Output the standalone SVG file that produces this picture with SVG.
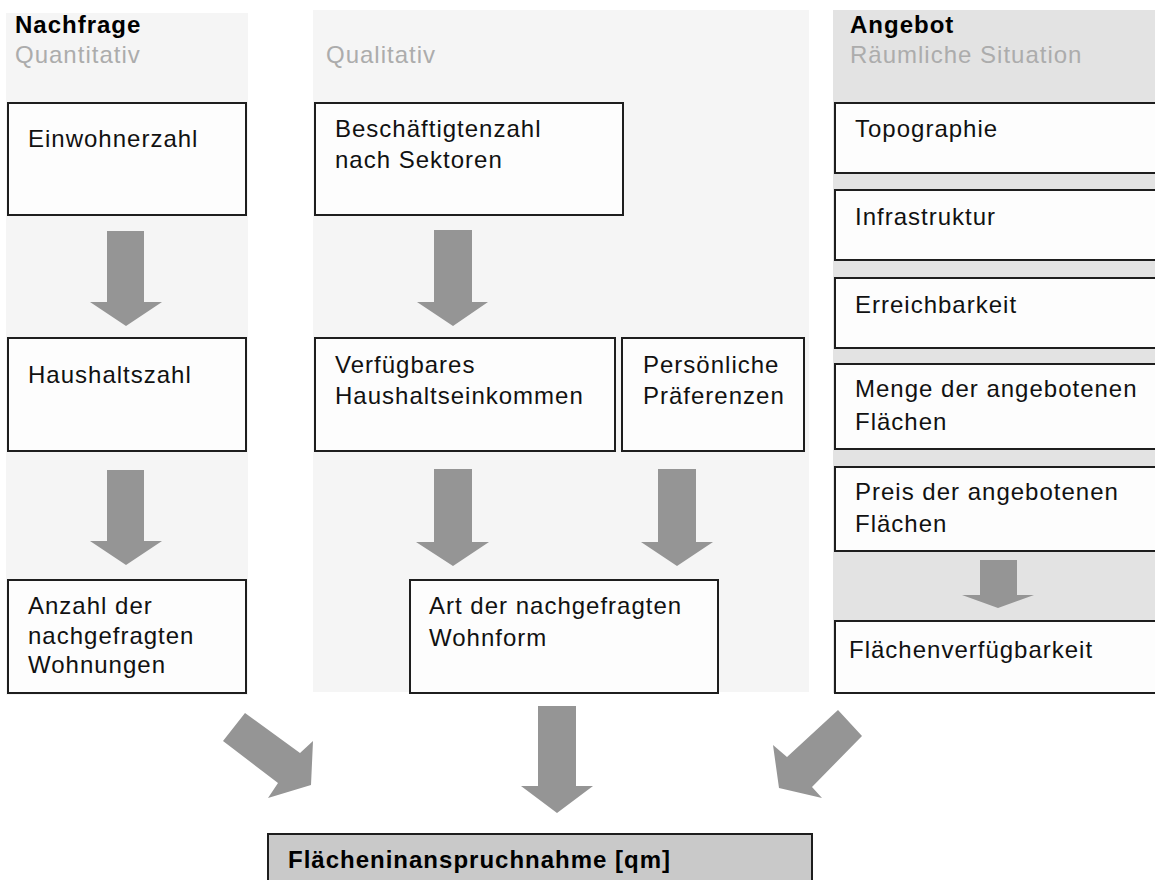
<svg xmlns="http://www.w3.org/2000/svg" width="1155" height="880" viewBox="0 0 1155 880">
<defs>
<style>
.panel-l{fill:#f5f5f5}
.panel-r{fill:#e3e3e3}
.box{fill:#fdfdfd;stroke:#1e1e1e;stroke-width:2}
.final{fill:#c9c9c9;stroke:#1e1e1e;stroke-width:2}
.t{font-family:"Liberation Sans",Arial,sans-serif;font-size:24px;letter-spacing:1px;fill:#111}
.h{font-family:"Liberation Sans",Arial,sans-serif;font-size:24px;font-weight:bold;letter-spacing:1px;fill:#000}
.s{font-family:"Liberation Sans",Arial,sans-serif;font-size:24px;letter-spacing:1px;fill:#acacac}
.arr{fill:#959595}
</style>
</defs>
<rect width="1155" height="880" fill="#ffffff"/>
<g id="panels">
<rect class="panel-l" x="6" y="13" width="242" height="682"/>
<rect class="panel-l" x="313" y="10" width="496" height="682"/>
<rect class="panel-r" x="833" y="10" width="322" height="683"/>
</g>
<g id="headers">
<text class="h" x="15" y="33">Nachfrage</text>
<text class="s" x="15" y="63">Quantitativ</text>
<text class="s" x="326" y="63">Qualitativ</text>
<text class="h" x="850" y="33">Angebot</text>
<text class="s" x="850" y="63">Räumliche Situation</text>
</g>
<g id="connectors">
<path class="arr" d="M107 231H144V302H162L126 326L90 302H107Z"/>
<path class="arr" d="M107 470H144V541H162L126 565L90 541H107Z"/>
<path class="arr" d="M434 230H472V302H488L453 326L417 302H434Z"/>
<path class="arr" d="M434 469H472V542H489L453 566L416 542H434Z"/>
<path class="arr" d="M658 469H696V542H713L677 566L641 542H658Z"/>
<path class="arr" d="M980 560H1017V595H1034L998 608L962 595H980Z"/>
<path class="arr" d="M538 706H576V786H593L557 813L521 786H538Z"/>
<path class="arr" d="M245 713L300 753L313 741L311 785L268 798L278 783L223 741Z"/>
<path class="arr" d="M838 710L862 736L812 787L822 798L779 788L773 745L787 757Z"/>
</g>
<g id="n-einwohnerzahl">
<rect class="box" x="8" y="103" width="238" height="112"/>
<text class="t" x="28" y="147">Einwohnerzahl</text>
</g>
<g id="n-haushaltszahl">
<rect class="box" x="8" y="338" width="238" height="113"/>
<text class="t" x="28" y="383">Haushaltszahl</text>
</g>
<g id="n-anzahl">
<rect class="box" x="8" y="580" width="238" height="113"/>
<text class="t" x="28" y="614">Anzahl der</text>
<text class="t" x="28" y="644">nachgefragten</text>
<text class="t" x="28" y="673">Wohnungen</text>
</g>
<g id="n-beschaeftigte">
<rect class="box" x="315" y="103" width="308" height="112"/>
<text class="t" x="335" y="137">Beschäftigtenzahl</text>
<text class="t" x="335" y="168">nach Sektoren</text>
</g>
<g id="n-einkommen">
<rect class="box" x="315" y="338" width="300" height="113"/>
<text class="t" x="335" y="373">Verfügbares</text>
<text class="t" x="335" y="404">Haushaltseinkommen</text>
</g>
<g id="n-praeferenzen">
<rect class="box" x="622" y="338" width="182" height="113"/>
<text class="t" x="643" y="373">Persönliche</text>
<text class="t" x="643" y="404">Präferenzen</text>
</g>
<g id="n-wohnform">
<rect class="box" x="410" y="580" width="308" height="113"/>
<text class="t" x="429" y="614">Art der nachgefragten</text>
<text class="t" x="429" y="646">Wohnform</text>
</g>
<g id="n-topographie">
<rect class="box" x="835" y="103" width="330" height="70"/>
<text class="t" x="855" y="137">Topographie</text>
</g>
<g id="n-infrastruktur">
<rect class="box" x="835" y="190" width="330" height="70"/>
<text class="t" x="855" y="225">Infrastruktur</text>
</g>
<g id="n-erreichbarkeit">
<rect class="box" x="835" y="278" width="330" height="70"/>
<text class="t" x="855" y="313">Erreichbarkeit</text>
</g>
<g id="n-menge">
<rect class="box" x="835" y="364" width="330" height="85"/>
<text class="t" x="855" y="397">Menge der angebotenen</text>
<text class="t" x="855" y="430">Flächen</text>
</g>
<g id="n-preis">
<rect class="box" x="835" y="467" width="330" height="84"/>
<text class="t" x="855" y="500">Preis der angebotenen</text>
<text class="t" x="855" y="532">Flächen</text>
</g>
<g id="n-flaechenverfuegbarkeit">
<rect class="box" x="835" y="621" width="330" height="72"/>
<text class="t" x="849" y="658">Flächenverfügbarkeit</text>
</g>
<g id="n-flaecheninanspruchnahme">
<rect class="final" x="268" y="834" width="544" height="60"/>
<text class="h" x="288" y="868">Flächeninanspruchnahme [qm]</text>
</g>
</svg>
